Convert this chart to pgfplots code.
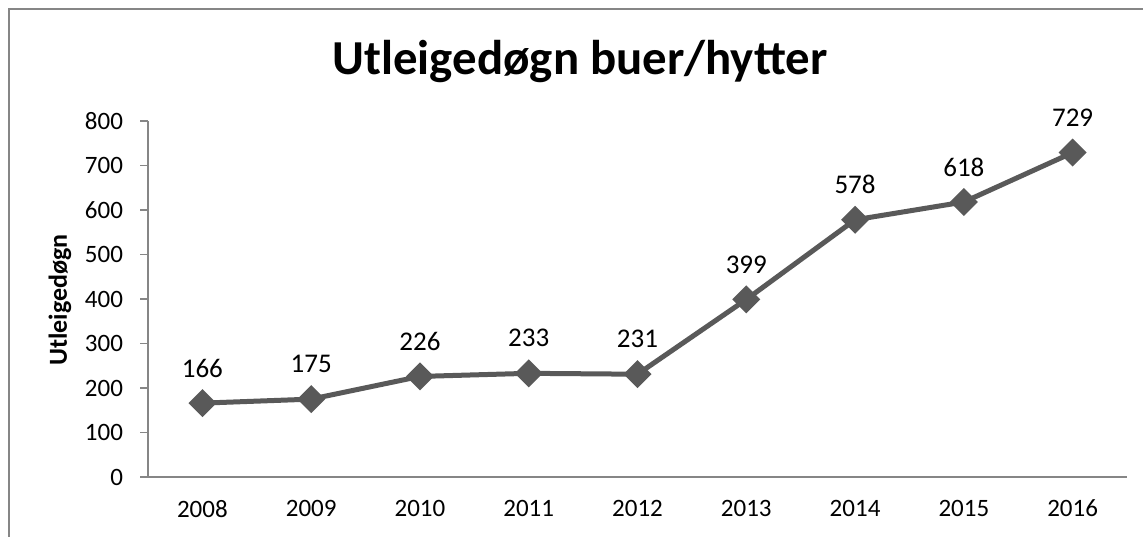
\documentclass[border=0pt]{standalone}
\usepackage{pgfplots}
\pgfplotsset{compat=1.18}
\usepackage{fontspec}
\setmainfont{Carlito}
\definecolor{linegray}{HTML}{595959}
\definecolor{axgray}{HTML}{868686}
\begin{document}
\begin{tikzpicture}
\useasboundingbox (0pt,0pt) rectangle (571.5pt,268pt);
\draw[axgray, line width=1pt] (4.5pt,-5pt) -- (4.5pt,263.5pt) -- (580pt,263.5pt);
\node[font=\bfseries\fontsize{24.4}{28}\selectfont] at (290pt,237pt) {Utleigedøgn buer/hytter};
\node[font=\bfseries\fontsize{13}{15}\selectfont, rotate=90] at (30pt,118pt) {Utleigedøgn};
\begin{axis}[
  at={(74pt,29.5pt)}, anchor=south west,
  scale only axis, width=489.5pt, height=178pt,
  xmin=-0.5, xmax=8.5, ymin=0, ymax=800,
  axis x line*=bottom, axis y line*=left,
  axis line style={axgray, line width=0.75pt},
  xtick={0,...,8},
  xticklabels={2008,2009,2010,2011,2012,2013,2014,2015,2016},
  extra x ticks={-0.5,0.5,...,8.5},
  extra x tick labels={},
  extra x tick style={major tick length=4pt, tick style={axgray, line width=0.75pt}},
  ytick={0,100,...,800},
  tick align=outside,
  major tick length=4pt,
  tick style={axgray, line width=0.75pt},
  x tick style={draw=none},
  ticklabel style={font=\fontsize{12.5}{15}\selectfont},
  /pgf/number format/assume math mode=true,
  /pgf/number format/1000 sep={},
  xticklabel style={yshift=-4pt},
  yticklabel style={xshift=-5pt},
  clip=false,
  nodes near coords,
  every node near coord/.append style={font=\fontsize{13.5}{15}\selectfont, anchor=center, yshift=17.5pt, black},
]
\addplot[linegray, line width=2.5pt, mark=square*, mark size=3.7pt, mark options={rotate=45, solid, fill=linegray}]
coordinates {(0,166) (1,175) (2,226) (3,233) (4,231) (5,399) (6,578) (7,618) (8,729)};
\end{axis}
\end{tikzpicture}
\end{document}
